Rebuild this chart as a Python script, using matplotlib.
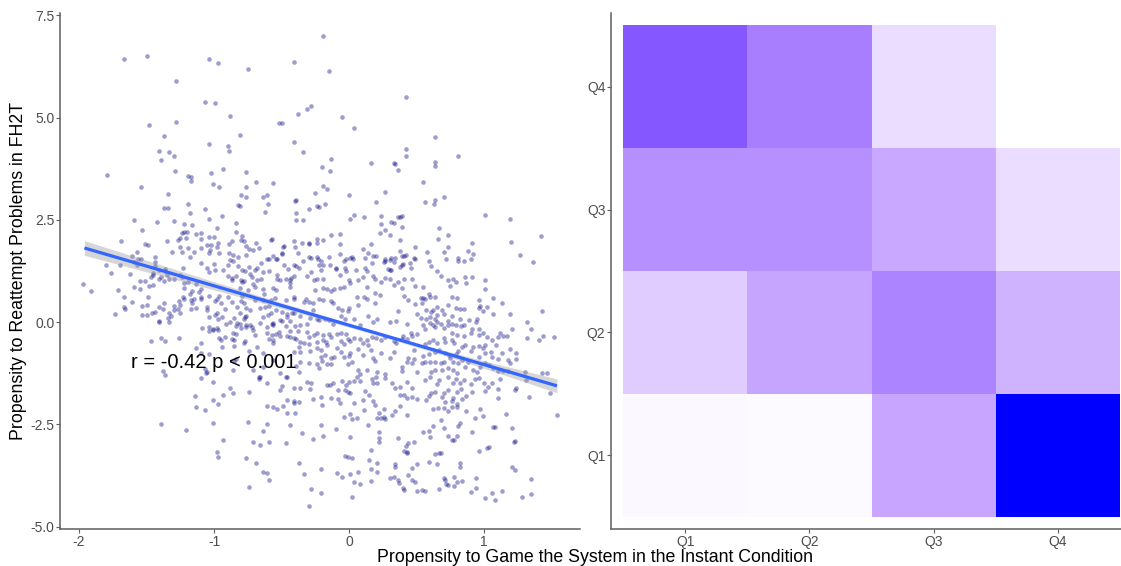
import numpy as np
import matplotlib
matplotlib.use("Agg")
import matplotlib.pyplot as plt
from matplotlib.colors import ListedColormap

plt.rcParams['font.family'] = ['Liberation Sans', 'DejaVu Sans']

# scatter: propensity to game (x) vs propensity to reattempt (y)
pts_top = [
    (-1.67, 6.43), (-1.50, 6.50), (-1.04, 6.43), (-0.97, 6.33), (-0.75, 6.19), (-0.41, 6.36), (-1.28, 5.89),
    (-1.07, 5.38), (-0.99, 5.35), (-1.48, 4.82), (-1.28, 4.89), (-0.88, 5.04), (-0.38, 5.09), (-0.52, 4.87),
    (-0.50, 4.87), (-1.37, 4.55), (-0.81, 4.57), (-1.04, 4.35), (-0.90, 4.30), (-0.89, 4.18), (-1.41, 4.18),
    (-1.39, 3.96), (-1.33, 4.16), (-1.30, 4.06), (-0.41, 4.40), (-1.79, 3.59), (-1.54, 3.30), (-1.29, 3.69),
    (-1.19, 3.57), (-1.17, 3.55), (-1.17, 3.45), (-1.02, 3.64), (-1.01, 3.37), (-0.96, 3.30), (-0.93, 3.74),
    (-0.76, 3.67), (-0.76, 3.30), (-0.80, 3.11), (-0.76, 3.06), (-0.69, 3.42), (-0.64, 3.06), (-0.61, 3.11),
    (-0.56, 3.40), (-0.60, 2.89), (-0.62, 2.69), (-0.40, 2.96), (-0.39, 2.98), (-1.34, 3.13), (-1.37, 2.79),
    (-1.34, 2.79), (-1.19, 2.89), (-1.18, 2.67), (-1.07, 2.76), (-1.04, 2.52), (-0.94, 2.59), (-0.84, 2.42),
    (-0.39, 2.67), (-0.39, 2.49), (-1.59, 2.49), (-1.42, 2.44), (-1.30, 2.47), (-1.22, 2.40),
    (-0.19, 6.99), (-0.15, 6.14), (0.42, 5.50), (-0.28, 5.28), (-0.31, 5.21), (-0.05, 5.01), (0.04, 4.74),
    (0.64, 4.52), (-0.34, 4.16), (0.42, 4.23), (0.42, 4.06), (0.81, 4.06), (-0.13, 3.99), (-0.20, 3.79),
    (-0.14, 3.69), (0.16, 3.89), (0.33, 3.89), (0.34, 3.86), (0.36, 3.72), (0.64, 3.91), (0.64, 3.81),
    (0.55, 3.42), (0.27, 3.18), (-0.25, 3.15), (-0.19, 3.33), (-0.16, 3.25), (0.00, 3.11), (0.20, 2.93),
    (0.56, 2.93), (0.64, 2.98), (0.70, 3.06), (0.63, 2.89), (-0.30, 2.76), (-0.34, 2.49), (-0.24, 2.84),
    (-0.22, 2.81), (-0.18, 2.89), (0.04, 2.62), (0.01, 2.52), (0.11, 2.57), (0.24, 2.59), (0.36, 2.57),
    (0.38, 2.57), (0.39, 2.59), (0.24, 2.40), (0.33, 2.42), (1.01, 2.62), (1.19, 2.52), (-0.82, 2.86),
    (-0.81, 2.84), (-1.16, 2.37), (0.31, 2.44), (0.39, 2.32),
]

pts_upper = [
    (0.27, 2.25), (0.23, 2.18), (0.30, 2.13), (1.20, 1.96), (1.42, 2.10), (1.27, 1.64), (1.36, 1.47),
    (0.67, 2.30), (0.66, 2.03), (0.73, 2.13), (0.73, 1.83), (0.70, 1.71), (0.91, 1.93), (0.92, 1.66),
    (0.88, 1.74), (0.49, 1.83), (0.59, 1.49), (0.61, 1.37), (0.65, 1.25), (0.72, 1.54), (0.81, 1.56),
    (0.81, 1.49), (0.85, 1.49), (0.90, 1.54), (0.38, 2.00), (0.38, 1.74), (0.34, 1.56), (0.41, 1.61),
    (0.39, 1.61), (0.40, 1.42), (0.39, 1.39), (0.49, 1.54), (0.46, 1.32), (0.33, 1.47), (0.30, 1.52),
    (0.31, 1.56), (0.27, 1.49), (0.30, 1.27), (0.17, 1.44), (0.12, 1.32), (0.05, 1.27), (0.14, 1.69),
    (0.18, 1.61), (0.20, 1.61), (0.16, 1.91), (0.10, 1.78), (0.12, 1.56), (0.01, 1.56), (0.03, 1.54),
    (-0.04, 1.49), (-0.03, 1.32), (-0.07, 1.66), (-0.07, 1.91), (-0.07, 2.15), (-0.13, 2.13), (-0.19, 2.00),
    (-0.24, 2.03), (-0.24, 1.93), (-0.30, 1.93), (-0.30, 1.91), (-0.35, 1.93), (-0.41, 1.98), (-0.40, 1.83),
    (-0.38, 1.69), (-0.48, 1.86), (-0.49, 1.83), (-0.50, 1.69), (-0.30, 1.59), (-0.34, 1.49), (-0.28, 1.56),
    (-0.24, 1.59), (-0.23, 1.54), (-0.21, 1.49), (-0.41, 1.39), (-0.48, 1.39), (-0.45, 1.30), (-0.37, 1.32),
    (-0.21, 1.27), (-0.10, 1.32),
    (-0.98, 2.30), (-1.00, 2.08), (-1.04, 2.08), (-1.21, 2.05), (-0.79, 2.10), (-0.78, 1.98), (-0.89, 1.91),
    (-0.69, 1.93), (-1.31, 1.71), (-1.24, 1.71), (-1.15, 1.71), (-1.18, 1.59), (-1.03, 1.76), (-1.04, 1.69),
    (-0.98, 1.83), (-0.96, 1.69), (-0.89, 1.69), (-0.86, 1.64), (-0.82, 1.59), (-0.76, 1.64), (-0.74, 1.78),
    (-0.88, 1.52), (-0.86, 1.49), (-1.10, 1.44), (-1.00, 1.42), (-1.05, 1.32), (-1.04, 1.22), (-0.99, 1.27),
    (-0.93, 1.27), (-0.90, 1.39), (-0.82, 1.37), (-0.79, 1.27), (-0.77, 1.25), (-0.74, 1.34), (-0.70, 1.27),
    (-0.68, 1.32), (-0.72, 1.10), (-0.90, 1.12), (-0.87, 1.08), (-0.87, 1.03), (-0.84, 1.12), (-0.78, 1.00),
    (-1.53, 2.25), (-1.69, 1.98), (-1.51, 1.91), (-1.49, 1.88), (-1.35, 1.98), (-1.27, 2.00), (-1.25, 2.05),
    (-1.24, 2.18), (-1.22, 2.20), (-1.20, 2.20), (-1.13, 2.15), (-1.10, 2.18), (-1.10, 2.03), (-1.25, 1.83),
    (-1.19, 1.81), (-1.10, 1.81), (-1.05, 1.88), (-1.02, 1.88), (-0.97, 1.93), (-0.84, 2.20), (-0.87, 1.98),
    (-0.80, 2.00), (-0.76, 1.86), (-0.71, 1.76), (-0.67, 1.81), (-0.58, 2.00), (-0.57, 2.03), (-1.80, 1.39),
    (-1.76, 1.20), (-1.57, 1.71), (-1.56, 1.54), (-1.44, 1.59), (-1.36, 1.30), (-1.36, 1.25), (-1.23, 1.32),
    (-1.25, 1.15), (-1.62, 1.17), (-1.59, 1.47), (-1.57, 1.39), (-1.54, 1.54), (-1.44, 1.47), (-1.44, 1.37),
    (-1.70, 1.39), (-1.61, 1.61), (-1.41, 1.27), (-1.45, 1.15), (-1.45, 1.20), (-1.41, 1.05), (-1.39, 1.10),
    (-1.35, 1.15), (-1.33, 1.05), (-1.30, 1.05), (-1.47, 1.10), (-1.55, 1.00), (-1.51, 1.00), (-1.24, 1.10),
    (-0.50, 1.66), (-0.56, 1.61), (-0.61, 1.54), (-0.59, 1.54), (-0.54, 1.54), (-0.53, 1.54), (-0.65, 1.44),
    (-0.64, 1.22), (-0.59, 1.25), (-0.53, 1.15), (-0.53, 1.05), (-0.51, 1.03), (-0.47, 1.05), (-0.44, 1.03),
    (-0.43, 1.08), (-0.41, 1.12), (-0.39, 1.37), (-0.31, 1.12), (-0.28, 1.22), (-0.22, 1.39), (-0.19, 1.39),
    (-0.15, 1.59), (-0.14, 1.39), (-0.26, 1.03), (-0.24, 1.05), (-0.19, 1.05), (-0.10, 1.30), (-0.07, 1.15),
    (-0.02, 1.25), (0.00, 1.03), (-0.02, 1.54), (0.02, 1.59), (0.07, 1.03), (0.13, 1.25), (0.10, 1.10),
    (0.19, 1.05), (0.18, 1.12), (0.27, 1.08), (0.30, 1.05), (0.29, 1.30), (0.31, 1.27), (0.26, 1.47),
    (0.27, 1.54), (0.38, 1.34), (0.42, 1.64), (0.45, 1.44), (0.48, 1.56), (0.47, 1.05), (0.41, 1.05),
    (-0.65, 1.05), (0.58, 1.71), (0.68, 1.12), (0.73, 1.03), (0.77, 1.05), (0.86, 1.10), (0.91, 1.10),
    (1.01, 1.03),
]

pts_middle = [
    (-0.80, 1.03), (-0.79, 0.98), (-0.73, 1.17), (-0.71, 0.93), (-0.68, 1.03), (-0.81, 0.83), (-0.75, 0.78),
    (-0.70, 0.86), (-0.79, 0.64), (-0.90, 0.61), (-0.87, 0.49), (-0.96, 0.64), (-0.98, 0.56), (-0.99, 0.51),
    (-1.04, 0.64), (-1.05, 0.37), (-0.99, 0.17), (-0.97, 0.07), (-0.85, 0.10), (-0.83, -0.02), (-0.81, -0.05),
    (-0.76, -0.07), (-0.73, -0.07), (-0.78, 0.07), (-0.76, 0.15), (-1.16, 0.76), (-1.15, 0.56), (-1.17, 0.54),
    (-1.22, 0.56), (-1.23, 0.61), (-1.10, 0.56), (-1.10, 0.61), (-1.10, 0.81), (-1.11, 0.73), (-1.18, 0.68),
    (-1.26, 0.51), (-1.25, 0.42), (-1.30, 0.39), (-1.27, 0.32), (-1.17, 0.32), (-1.25, 0.22), (-1.37, 0.46),
    (-1.41, 0.37), (-1.38, 0.32), (-1.49, 0.61), (-1.50, 0.42), (-1.53, 0.39), (-1.67, 0.61), (-1.61, 0.49),
    (-1.66, 0.32), (-1.73, 0.20), (-1.67, 0.37), (-1.71, 0.78), (-1.59, 0.86), (-1.55, 0.81), (-1.48, 0.88),
    (-1.45, 0.90), (-1.37, 1.00), (-1.22, 0.83), (-1.22, 0.95), (-1.19, 0.98), (-1.13, 0.93), (-1.09, -0.15),
    (-1.04, -0.12), (-1.01, -0.17), (-0.98, -0.15), (-0.91, -0.05), (-0.84, -0.10), (-0.80, -0.15),
    (-0.76, -0.12), (-0.72, -0.12), (-1.32, 0.15), (-1.34, 0.10), (-1.41, 0.02), (-0.80, 0.51), (-0.78, 0.46),
    (-0.76, 0.34), (-0.73, 0.29), (-0.70, 0.54), (-0.83, 0.37), (-0.92, 0.32), (-0.95, 0.46),
    (-0.44, 0.95), (-0.44, 0.86), (-0.19, 0.83), (-0.25, 0.78), (-0.16, 0.81), (-0.13, 0.76), (0.01, 0.95),
    (-0.04, 0.86), (-0.07, 0.83), (0.13, 0.86), (0.24, 0.98), (0.49, 0.88), (0.39, 0.83), (0.36, 0.98),
    (0.33, 0.90), (0.41, 0.64), (0.44, 0.54), (0.36, 0.27), (0.49, 0.44), (0.50, 0.20), (0.35, 0.02),
    (0.43, -0.05), (0.30, 0.00), (0.19, 0.71), (0.23, 0.66), (0.19, 0.46), (0.13, 0.56), (0.11, 0.61),
    (0.06, 0.61), (0.07, 0.42), (0.00, 0.34), (-0.01, 0.27), (-0.05, 0.29), (-0.08, 0.34), (-0.13, 0.51),
    (-0.12, 0.46), (-0.11, 0.81), (-0.19, 0.54), (-0.22, 0.56), (-0.27, 0.46), (-0.32, 0.56), (-0.33, 0.49),
    (-0.30, 0.49), (-0.27, 0.29), (-0.41, 0.61), (-0.41, 0.56), (-0.47, 0.54), (-0.50, 0.24), (-0.46, 0.20),
    (-0.42, 0.22), (-0.36, 0.15), (-0.29, 0.10), (-0.31, -0.05), (-0.36, -0.07), (-0.24, 0.07), (-0.22, 0.05),
    (-0.18, 0.07), (-0.15, 0.05), (-0.12, -0.05), (-0.06, 0.15), (-0.03, 0.07), (0.04, 0.07), (0.08, -0.07),
    (0.14, 0.15), (0.18, 0.00), (0.21, 0.07), (-0.55, 0.59), (-0.58, 0.54), (-0.64, 0.54), (-0.59, 0.39),
    (-0.62, 0.37), (-0.66, 0.34), (-0.54, 0.29), (-0.60, 0.17), (-0.58, 0.22), (-0.64, 0.12), (-0.57, -0.05),
    (-0.56, -0.07), (-0.50, 0.02), (-0.47, -0.10), (-0.44, 0.02), (-0.40, -0.10), (-0.64, 0.81), (-0.63, 0.68),
    (-0.56, 0.83), (-0.54, 0.78),
    (0.79, 0.98), (0.75, 0.88), (0.87, 0.95), (1.01, 0.81), (1.07, 0.59), (1.13, 0.46), (1.02, 0.37),
    (0.96, 0.54), (0.97, 0.39), (0.96, 0.34), (0.99, 0.27), (1.07, 0.20), (1.19, 0.20), (1.43, 0.27),
    (1.32, 0.00), (1.35, -0.17), (1.21, -0.17), (0.95, 0.07), (0.94, 0.00), (0.89, 0.05), (0.91, -0.17),
    (0.96, -0.17), (0.82, 0.07), (0.82, 0.32), (0.85, 0.32), (0.79, 0.34), (0.73, 0.42), (0.76, 0.61),
    (0.80, 0.59), (0.69, 0.29), (0.70, 0.20), (0.76, 0.15), (0.79, -0.07), (0.83, -0.10), (0.85, -0.07),
    (0.73, 0.02), (0.73, -0.07), (0.60, 0.61), (0.59, 0.68), (0.64, 0.61), (0.55, 0.86), (0.54, 0.46),
    (0.53, 0.59), (0.55, 0.59), (0.56, 0.56), (0.57, 0.29), (0.62, 0.29), (0.61, 0.24), (0.65, 0.37),
    (0.65, 0.17), (0.60, 0.12), (0.57, 0.07), (0.53, 0.10), (0.64, 0.07), (0.65, 0.00), (0.60, -0.02),
    (0.62, -0.07), (0.64, -0.12), (0.68, -0.05), (0.70, -0.15), (0.55, -0.07), (0.56, -0.17), (0.76, -0.05),
    (-1.91, 0.76), (-1.97, 0.93), (-1.53, 0.17), (-1.50, 0.17), (-1.41, 0.00), (-1.33, 0.00), (-1.01, -0.20),
    (-0.97, -0.20), (-1.33, 0.22), (-1.30, 0.29), (-1.46, 0.22), (-1.44, 0.24), (-1.16, 0.46), (-1.13, 0.34),
    (-1.05, 0.29), (-1.04, 0.12), (-0.98, 0.22), (-0.94, 0.12), (-0.88, 0.00), (-0.81, 0.22), (-0.77, 0.12),
    (-0.71, -0.20), (-0.66, -0.02), (-0.61, -0.12), (-0.56, -0.02), (-0.51, 0.05), (-0.46, 0.12), (-0.41, 0.22),
]

pts_lower = [
    (-1.47, -0.46), (-1.39, -0.39), (-1.36, -0.46), (-1.26, -0.39), (-1.38, -1.20), (-1.36, -1.30),
    (-1.13, -0.64), (-1.10, -0.51), (-1.10, -0.76), (-1.04, -0.78), (-1.07, -1.15), (-1.05, -1.22),
    (-1.06, -1.25), (-1.10, -1.37), (-1.01, -1.47), (-0.88, -1.61), (-0.93, -1.78), (-1.14, -1.81),
    (-1.01, -1.91), (-0.97, -2.00), (-1.13, -2.08), (-1.07, -2.15), (-0.74, -1.71), (-1.39, -2.49),
    (-1.21, -2.64), (-1.01, -2.47), (-0.75, -2.44), (-0.93, -2.89), (-0.71, -2.93), (-0.96, -0.39),
    (-0.95, -0.44), (-0.92, -0.37), (-1.04, -0.22), (-0.86, -0.27), (-0.84, -0.29), (-0.87, -0.42),
    (-0.85, -0.44), (-0.78, -0.51), (-0.77, -0.46), (-0.74, -0.71), (-0.70, -0.32), (-0.94, -0.61),
    (-0.85, -0.59), (-0.84, -0.90), (-0.85, -0.95), (-0.67, -1.39), (-0.67, -1.34),
    (-0.61, -0.27), (-0.56, -0.44), (-0.68, -0.61), (-0.64, -0.76), (-0.56, -0.93), (-0.51, -1.25),
    (-0.46, -1.34), (-0.66, -1.34), (-0.61, -1.49), (-0.46, -1.91), (-0.41, -1.98), (-0.40, -2.22),
    (-0.86, -1.74), (-0.64, -1.10), (-0.71, -1.17), (-0.86, -1.17), (-0.51, -1.66), (-0.61, -2.49),
    (-0.44, -2.52), (-0.47, -2.96), (-0.59, -2.93),
    (-0.57, -0.32), (-0.54, -0.29), (-0.51, -0.34), (-0.46, -0.34), (-0.44, -0.37), (-0.41, -0.39),
    (-0.39, -0.42), (-0.36, -0.49), (-0.33, -0.51), (-0.30, -0.37), (-0.26, -0.32), (-0.24, -0.49),
    (-0.19, -0.44), (-0.17, -0.49), (-0.16, -0.56), (-0.37, -0.61), (-0.36, -0.73), (-0.30, -0.54),
    (-0.24, -0.64), (-0.21, -0.68), (-0.21, -0.86), (-0.18, -0.81), (-0.13, -0.88), (-0.11, -0.86),
    (-0.20, -0.95), (-0.16, -1.03), (-0.13, -1.03), (-0.24, -1.03), (-0.22, -1.12), (-0.30, -1.00),
    (-0.36, -0.98), (-0.39, -1.08), (-0.37, -1.22), (-0.47, -1.34), (-0.41, -1.61), (-0.36, -1.61),
    (-0.31, -1.47), (-0.28, -1.49), (-0.29, -1.64), (-0.16, -1.54), (-0.14, -1.54), (-0.12, -1.49),
    (-0.08, -1.66), (-0.05, -1.44), (-0.02, -1.54), (0.00, -1.47), (0.04, -1.44), (-0.50, -1.56),
    (-0.41, -1.93), (-0.37, -1.96), (-0.27, -1.88), (-0.21, -1.83), (-0.20, -2.03), (-0.13, -1.86),
    (-0.61, -2.05), (-0.56, -2.08), (-0.53, -2.13), (-0.46, -2.22), (-0.49, -2.05), (-0.64, -2.66),
    (-0.35, -2.71), (-0.27, -2.86), (-0.19, -2.79), (-0.10, -2.62), (-0.21, -2.52), (0.01, -2.25),
    (0.02, -2.37), (0.06, -2.35), (-0.04, -2.32), (0.01, -2.81), (0.11, -2.15), (0.14, -2.52),
    (0.18, -1.93), (0.19, -2.03), (0.22, -2.22), (0.21, -2.35), (0.24, -2.35), (0.26, -2.32),
    (0.27, -2.37), (0.22, -2.69), (0.22, -2.84), (0.26, -2.13), (0.32, -2.27), (0.34, -2.18),
    (0.38, -2.05), (0.43, -2.27), (0.36, -2.84), (-0.08, -1.88), (-0.07, -1.98), (0.04, -1.98),
    (0.10, -1.91), (-0.03, -1.66), (-0.01, -1.71), (0.01, -1.74), (0.12, -1.69), (0.15, -1.78),
    (0.06, -1.34), (0.08, -1.44), (0.17, -1.39), (0.18, -1.49), (0.21, -1.49), (0.21, -1.22),
    (0.20, -1.34), (0.13, -1.17), (0.07, -1.17), (0.08, -1.27), (-0.01, -1.03), (0.02, -0.98),
    (0.27, -1.27), (0.27, -1.37), (0.32, -1.49), (0.34, -1.61), (0.38, -1.59), (0.38, -1.78),
    (0.41, -1.78), (0.43, -1.86), (0.47, -1.83), (0.50, -1.88), (0.43, -1.47), (0.47, -1.61),
    (0.50, -1.22), (0.39, -1.10), (0.39, -1.20), (0.44, -0.88), (0.43, -0.98), (0.48, -0.90),
    (0.47, -1.00), (0.48, -0.68), (0.33, -0.73), (0.30, -0.88), (0.24, -0.76), (0.18, -0.88),
    (0.19, -0.95), (0.16, -0.68), (0.10, -0.81), (0.07, -0.66), (0.01, -0.76), (0.00, -0.83),
    (-0.04, -0.86), (-0.06, -0.73), (-0.09, -0.64), (-0.04, -0.54), (-0.06, -0.46), (-0.01, -0.42),
    (0.01, -0.46), (0.04, -0.39), (0.08, -0.42), (0.10, -0.51), (0.13, -0.44), (0.14, -0.56),
    (0.17, -0.37), (0.20, -0.39), (0.24, -0.44), (0.27, -0.37), (0.33, -0.46), (0.35, -0.51),
    (0.39, -0.42), (0.40, -0.34), (0.43, -0.42), (0.46, -0.27), (0.47, -0.34), (0.50, -0.29),
    (-0.09, -0.29), (-0.06, -0.27), (-0.02, -0.29), (-0.15, -0.29), (-0.13, -0.37), (-0.19, -0.32),
    (-0.24, -0.27), (-0.31, -0.24), (-0.38, -0.22), (-0.44, -0.22), (-0.52, -0.24), (-0.56, -0.51),
    (-0.59, -0.42), (-0.29, -0.71), (-0.41, -0.73),
    (1.32, -0.39), (1.44, -0.34), (1.52, -0.37), (1.41, -0.44), (1.17, -0.34), (1.14, -0.34),
    (1.19, -0.66), (1.24, -0.76), (1.13, -0.76), (1.18, -0.93), (1.19, -1.00), (1.24, -0.90),
    (1.09, -0.56), (1.10, -0.37), (1.06, -0.44), (1.02, -0.37), (1.01, -0.56), (0.99, -0.64),
    (1.01, -0.76), (1.05, -0.73), (0.96, -0.59), (0.96, -0.86), (0.92, -0.61), (0.90, -0.71),
    (1.01, -1.00), (1.04, -1.05), (1.07, -1.12), (1.10, -1.20), (1.12, -1.39), (1.14, -1.20),
    (1.30, -1.22), (1.31, -1.42), (1.43, -1.25), (1.47, -1.25), (1.49, -1.74), (1.33, -1.83),
    (1.23, -1.66), (1.24, -1.61), (1.54, -2.27), (1.16, -2.25), (1.10, -1.86), (1.06, -1.49),
    (1.03, -1.59), (1.00, -1.49), (1.01, -1.69), (0.96, -1.37), (0.93, -1.39), (0.90, -1.52),
    (0.91, -1.71), (0.87, -1.81), (0.83, -1.64), (0.80, -1.71), (0.84, -1.88), (0.80, -2.00),
    (0.77, -1.86), (0.76, -1.93), (0.87, -2.18), (0.97, -2.13), (0.99, -2.30), (0.93, -2.35),
    (1.08, -2.57), (1.21, -2.59), (0.91, -2.69), (0.81, -2.54), (0.82, -2.47), (0.80, -2.79),
    (0.78, -2.89), (0.76, -2.89), (0.73, -2.79), (0.70, -2.59), (0.68, -2.40), (0.62, -2.54),
    (0.59, -2.66), (0.60, -2.81), (0.55, -2.69), (0.73, -2.18), (0.70, -2.10), (0.66, -2.10),
    (0.62, -2.13), (0.76, -2.08), (0.80, -2.08), (0.64, -1.71), (0.61, -1.74), (0.57, -1.91),
    (0.59, -1.81), (0.69, -1.83), (0.70, -1.74), (0.71, -1.96), (0.73, -1.66), (0.77, -1.49),
    (0.82, -1.49), (0.85, -1.42), (0.79, -1.39), (0.73, -1.34), (0.67, -1.42), (0.65, -1.52),
    (0.60, -1.34), (0.56, -1.42), (0.61, -1.22), (0.64, -1.17), (0.69, -1.17), (0.73, -1.12),
    (0.77, -1.17), (0.80, -1.25), (0.86, -1.10), (0.84, -0.93), (0.88, -0.98), (0.81, -1.00),
    (0.77, -0.98), (0.75, -0.88), (0.68, -1.00), (0.70, -0.98), (0.64, -0.98), (0.60, -0.98),
    (0.56, -0.98), (0.54, -1.00), (0.55, -0.83), (0.59, -0.78), (0.64, -0.73), (0.67, -0.68),
    (0.71, -0.76), (0.74, -0.81), (0.79, -0.78), (0.81, -0.71), (0.84, -0.61), (0.86, -0.56),
    (0.78, -0.51), (0.76, -0.44), (0.71, -0.49), (0.70, -0.39), (0.65, -0.51), (0.62, -0.44),
    (0.59, -0.49), (0.56, -0.54), (0.90, -0.27), (0.85, -0.34), (0.80, -0.32), (0.76, -0.27),
    (0.96, -0.32), (0.99, -0.27), (1.12, -0.27), (1.06, -0.86), (1.10, -0.90), (0.92, -1.17),
    (0.95, -1.22), (0.97, -1.10), (1.18, -1.20), (1.10, -1.64),
]

pts_bottom = [
    (-0.98, -3.18), (-0.97, -3.30), (-0.76, -3.33), (-0.66, -3.01), (-0.69, -3.45), (-0.64, -3.67),
    (-0.61, -3.69), (-0.59, -3.86), (-0.74, -4.03), (-0.37, -3.45), (-0.33, -3.72), (-0.28, -4.08),
    (-0.21, -4.18), (-0.30, -4.50), (-0.21, -3.59), (-0.09, -3.69), (-0.05, -3.79), (0.01, -3.72),
    (0.02, -4.28), (0.08, -3.96), (0.04, -3.91), (0.16, -3.89), (0.21, -3.45), (0.21, -3.67),
    (0.15, -3.37), (0.30, -3.81), (0.33, -3.79), (0.36, -3.86), (0.34, -3.47), (0.34, -3.55),
    (0.37, -3.94), (0.40, -4.06), (0.41, -4.11), (0.44, -3.74), (0.47, -3.57), (0.50, -3.47),
    (0.47, -3.86), (0.49, -3.91), (0.50, -4.13), (0.54, -4.11), (0.56, -4.13), (0.59, -3.42),
    (0.65, -3.47), (0.67, -3.20), (0.64, -3.23), (0.70, -3.81), (0.71, -3.86), (0.72, -3.96),
    (0.78, -3.79), (0.80, -3.91), (0.82, -3.55), (0.82, -3.45), (0.84, -3.89), (0.67, -4.08),
    (0.73, -3.99), (0.78, -4.01), (0.94, -3.81), (0.90, -4.16), (0.94, -4.06), (1.01, -4.30),
    (1.06, -4.18), (1.08, -4.35), (1.13, -4.13), (1.21, -3.55), (1.23, -3.62), (1.28, -4.28),
    (1.35, -4.21), (1.35, -3.84), (1.23, -2.91), (1.07, -2.57), (0.96, -3.15), (1.04, -3.06),
    (0.44, -2.96), (0.48, -2.93), (0.41, -3.15), (0.43, -3.20), (0.16, -3.13), (-0.01, -3.30),
    (0.16, -3.59), (0.07, -3.67), (-0.03, -3.28), (0.02, -3.33), (0.42, -3.03), (0.43, -3.18),
    (0.22, -2.93), (1.02, -3.08), (1.22, -2.93), (0.68, -3.20),
]

# fitted line and its confidence band
fit_x = [-1.96, 1.54]
fit_y = [1.81, -1.56]
band_x = [-1.96, -1.5, -1.0, -0.5, 0.0, 0.3, 0.7, 1.0, 1.54]
band_half = [0.18, 0.14, 0.10, 0.07, 0.05, 0.048, 0.06, 0.09, 0.17]
stat_label = "r = -0.42 p < 0.001"

# heatmap: rows = reattempt quartile Q1..Q4, cols = gaming quartile Q1..Q4 (fill intensity 0..1)
quartiles = ["Q1", "Q2", "Q3", "Q4"]
cell_values = [
    [0.03, 0.02, 0.38, 1.00],
    [0.22, 0.39, 0.535, 0.325],
    [0.48, 0.48, 0.37, 0.147],
    [0.724, 0.557, 0.147, 0.00],
]

W, H = 1121, 566
GREY = "#4D4D4D"
LINE = "#5E5E5E"

M = np.array([[0.4124, 0.3576, 0.1805], [0.2126, 0.7152, 0.0722], [0.0193, 0.1192, 0.9505]])
WHITE = np.array([0.95047, 1.0, 1.08883])


def srgb_to_lab(rgb):
    c = np.asarray(rgb, float)
    lin = np.where(c <= 0.04045, c / 12.92, ((c + 0.055) / 1.055) ** 2.4)
    xyz = lin @ M.T / WHITE
    d = 6 / 29
    f = np.where(xyz > d ** 3, np.cbrt(xyz), xyz / (3 * d * d) + 4 / 29)
    return np.stack([116 * f[..., 1] - 16, 500 * (f[..., 0] - f[..., 1]), 200 * (f[..., 1] - f[..., 2])], axis=-1)


def lab_to_srgb(lab):
    fy = (lab[:, 0] + 16) / 116
    f = np.stack([fy + lab[:, 1] / 500, fy, fy - lab[:, 2] / 200], axis=1)
    d = 6 / 29
    xyz = np.where(f > d, f ** 3, 3 * d * d * (f - 4 / 29)) * WHITE
    lin = np.clip(xyz @ np.linalg.inv(M).T, 0, 1)
    c = np.where(lin <= 0.0031308, 12.92 * lin, 1.055 * lin ** (1 / 2.4) - 0.055)
    return np.clip(c, 0, 1)


# white -> blue gradient interpolated in Lab (like ggplot)
lab0 = srgb_to_lab([1.0, 1.0, 1.0])
lab1 = srgb_to_lab([0.0, 0.0, 1.0])
t = np.linspace(0, 1, 256)[:, None]
cmap = ListedColormap(lab_to_srgb(lab0 * (1 - t) + lab1 * t))

fig = plt.figure(figsize=(W / 100, H / 100), dpi=100)
ax = fig.add_axes([60 / W, 1 - 529 / H, 520 / W, 516 / H])
ax2 = fig.add_axes([611 / W, 1 - 529 / H, 521 / W, 516 / H])

pts = np.array(pts_top + pts_upper + pts_middle + pts_lower + pts_bottom)
ax.scatter(pts[:, 0], pts[:, 1], s=11, color="navy", alpha=0.38, linewidths=0, zorder=2)

line_at_band = np.interp(band_x, fit_x, fit_y)
ax.fill_between(band_x, line_at_band - np.array(band_half), line_at_band + np.array(band_half),
                color="#999999", alpha=0.4, linewidth=0, zorder=3)
ax.plot(fit_x, fit_y, color="#3366FF", linewidth=2.3, solid_capstyle="butt", zorder=4)
ax.text(-1.0, -1.0, stat_label, fontsize=14.5, ha="center", va="center", color="black", zorder=5)

ax.set_xlim(-2.141, 1.711)
ax.set_ylim(-5.06, 7.555)
ax.set_xticks([-2, -1, 0, 1])
ax.set_xticklabels(["-2", "-1", "0", "1"])
ax.set_yticks([-5, -2.5, 0, 2.5, 5, 7.5])
ax.set_yticklabels(["-5.0", "-2.5", "0.0", "2.5", "5.0", "7.5"])

xe = np.arange(0.5, 5.0, 1.0)
ax2.pcolormesh(xe, xe, np.array(cell_values), cmap=cmap, vmin=0, vmax=1, shading="flat")
ax2.set_xlim(0.4, 4.6)
ax2.set_ylim(0.4, 4.6)
ax2.set_xticks([1, 2, 3, 4])
ax2.set_xticklabels(quartiles)
ax2.set_yticks([1, 2, 3, 4])
ax2.set_yticklabels(quartiles)

for a in (ax, ax2):
    for side in ("top", "right"):
        a.spines[side].set_visible(False)
    for side in ("left", "bottom"):
        a.spines[side].set_color(LINE)
        a.spines[side].set_linewidth(1.1)
    a.tick_params(length=3, width=0.8, color=LINE, labelcolor=GREY, labelsize=10, pad=1.0)
    a.set_facecolor("white")

fig.text(19 / W, 1 - 271 / H, "Propensity to Reattempt Problems in FH2T", rotation=90,
         ha="center", va="center", fontsize=12.8)
fig.text(595 / W, 1 - 557.5 / H, "Propensity to Game the System in the Instant Condition",
         ha="center", va="center", fontsize=12.8)

fig.savefig("out.png", dpi=100)
